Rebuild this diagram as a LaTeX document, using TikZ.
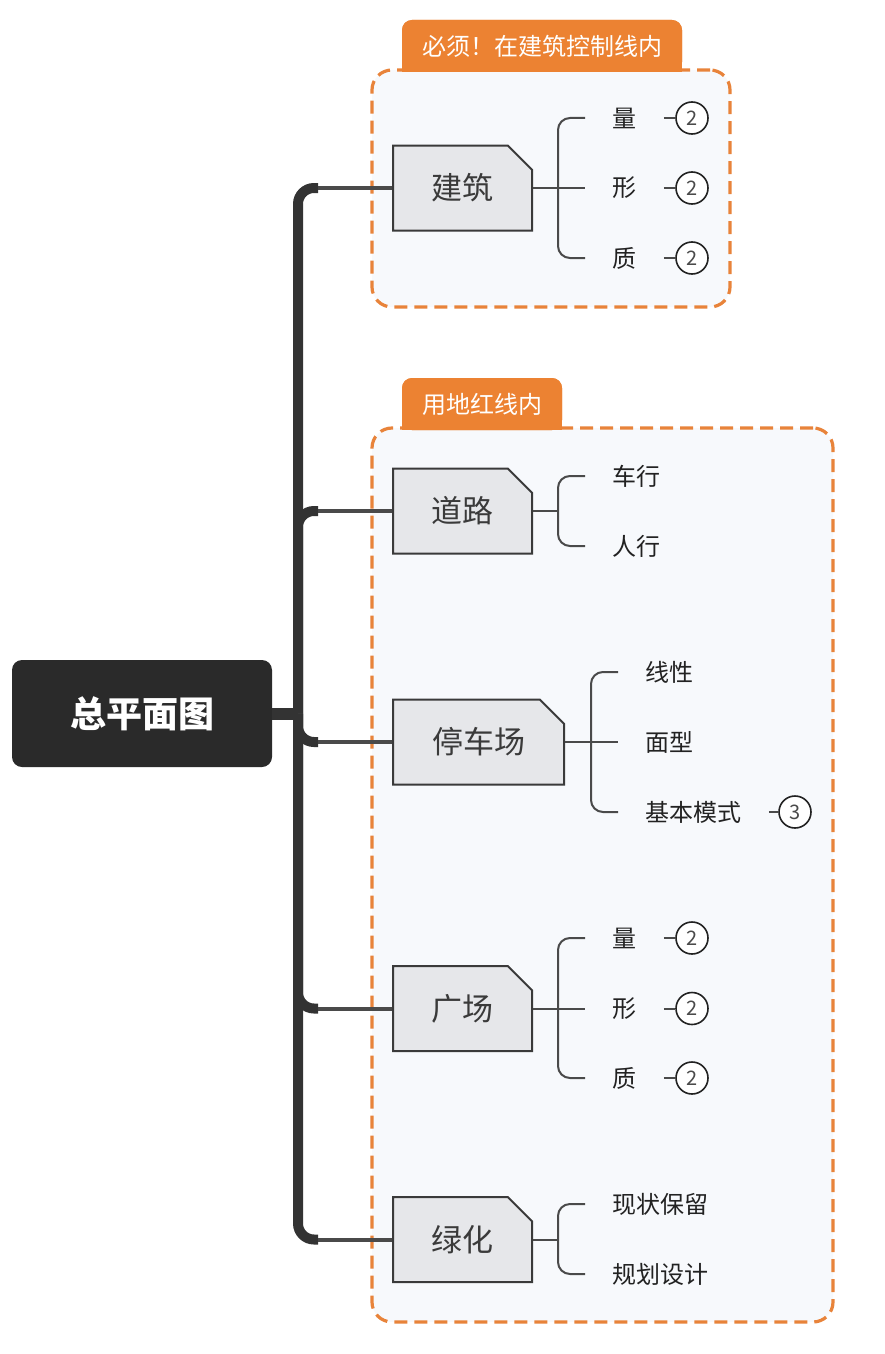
\documentclass[tikz,border=0pt]{standalone}
\usepackage{fontspec}
\setmainfont{Noto Sans CJK SC}
\usepackage{xcolor}
\usetikzlibrary{positioning,shapes.misc}
\definecolor{rootfill}{HTML}{2A2A2A}
\definecolor{spinegrey}{HTML}{333333}
\definecolor{twiggrey}{HTML}{4A4A4A}
\definecolor{boxfill}{HTML}{E6E7EA}
\definecolor{boxline}{HTML}{3A3A3A}
\definecolor{zoneorange}{HTML}{E8833A}
\definecolor{taborange}{HTML}{EC8232}
\definecolor{zonefill}{HTML}{F7F9FC}
\definecolor{leafgrey}{HTML}{222222}
\tikzset{
  rootbox/.style={
    rectangle, rounded corners=5pt, fill=rootfill, text=white,
    minimum width=130pt, minimum height=53.5pt,
    font=\fontsize{18}{20}\selectfont\bfseries
  },
  topic/.style={
    chamfered rectangle, chamfered rectangle corners=north east,
    chamfered rectangle xsep=8.5pt, draw=boxline, line width=1pt,
    fill=boxfill, text=boxline, minimum width=69.5pt, minimum height=42.5pt,
    font=\fontsize{15.5}{18}\selectfont
  },
  leaf/.style={
    anchor=west, inner xsep=13.5pt, inner ysep=2pt, text=leafgrey,
    font=\fontsize{12}{14}\selectfont
  },
  badge/.style={
    circle, draw=leafgrey, line width=0.8pt, minimum size=16pt,
    inner sep=0pt, fill=white, text=twiggrey, font=\fontsize{10}{12}\selectfont
  },
  zone/.style={
    rectangle, draw=zoneorange, dash pattern=on 6.5pt off 3.5pt,
    line width=1.6pt, fill=zonefill, rounded corners=10pt
  },
  tabnode/.style={
    rectangle, fill=taborange, rounded corners=5pt, text=white,
    minimum height=26pt, inner sep=0pt, font=\fontsize{12}{14}\selectfont
  },
  spine/.style={draw=spinegrey, line width=5pt, rounded corners=8pt},
  twig/.style={draw=twiggrey, line width=2pt},
  brk/.style={draw=twiggrey, line width=1pt, rounded corners=6pt},
}
\begin{document}
\begin{tikzpicture}[x=0.5pt,y=-0.5pt]
  \useasboundingbox (0,0) rectangle (884,1354);

  %% -- zones --------------------------------------------------------------
  \node[zone, minimum width=179pt, minimum height=118.5pt] (zone1) at (551,188.5) {};
  \node[zone, minimum width=230.5pt, minimum height=447pt] (zone2) at (602.5,875) {};

  \node[tabnode, minimum width=140pt] (tab1) at (542,46) {必须！在建筑控制线内};
  \fill[taborange] (tab1.west) rectangle (tab1.south east);
  \node[tabnode, minimum width=140pt] at (542,46) {必须！在建筑控制线内};
  \node[tabnode, minimum width=80pt] (tab2) at (482,404) {用地红线内};
  \fill[taborange] (tab2.west) rectangle (tab2.south east);
  \node[tabnode, minimum width=80pt] at (482,404) {用地红线内};

  %% -- root and topics ----------------------------------------------------
  \node[rootbox] (root) at (142,713.5) {总平面图};
  \coordinate (trunk) at (298,713.5);

  \node[topic] (jz) at (462.5,188) {建筑};
  \node[topic] (dl) at (462.5,511) {道路};
  \node[topic, minimum width=85.5pt] (tcc) at (478.5,742) {停车场};
  \node[topic] (gc) at (462.5,1008.5) {广场};
  \node[topic] (lh) at (462.5,1239.5) {绿化};

  %% -- trunk --------------------------------------------------------------
  \draw[spinegrey, line width=6pt] (root.east) -- (trunk);
  \foreach \t in {jz,dl,tcc,gc,lh} {
    \draw[spine] (trunk) |- ([xshift=-37pt]\t.west);
    \draw[twig] ([xshift=-37pt]\t.west) -- (\t.west);
  }

  %% -- leaves -------------------------------------------------------------
  \coordinate (jz-fork) at (558,188);
  \node[leaf] (jz1) at (585,118) {量};
  \node[leaf] (jz2) at (585,188) {形};
  \node[leaf] (jz3) at (585,258) {质};

  \coordinate (dl-fork) at (558,511);
  \node[leaf] (dl1) at (585,476) {车行};
  \node[leaf] (dl2) at (585,546) {人行};

  \coordinate (tcc-fork) at (591,742);
  \node[leaf] (tcc1) at (618,672) {线性};
  \node[leaf] (tcc2) at (618,742) {面型};
  \node[leaf] (tcc3) at (618,812) {基本模式};

  \coordinate (gc-fork) at (558,1008.5);
  \node[leaf] (gc1) at (585,938) {量};
  \node[leaf] (gc2) at (585,1008.5) {形};
  \node[leaf] (gc3) at (585,1078) {质};

  \coordinate (lh-fork) at (558,1239.5);
  \node[leaf] (lh1) at (585,1204) {现状保留};
  \node[leaf] (lh2) at (585,1274) {规划设计};

  % brackets
  \foreach \t/\n in {jz/3,dl/2,tcc/3,gc/3,lh/2} {
    \draw[brk] (\t.east) -- (\t-fork);
    \draw[brk] (\t1.west) -| (\t-fork) |- (\t\n.west);
  }
  \draw[brk] (jz-fork) -- (jz2.west);
  \draw[brk] (tcc-fork) -- (tcc2.west);
  \draw[brk] (gc-fork) -- (gc2.west);

  %% -- badges -------------------------------------------------------------
  \node[badge] (jzb1) at (692,118) {2};
  \node[badge] (jzb2) at (692,188) {2};
  \node[badge] (jzb3) at (692,258) {2};
  \node[badge] (tccb3) at (795,812) {3};
  \node[badge] (gcb1) at (692,938) {2};
  \node[badge] (gcb2) at (692,1008.5) {2};
  \node[badge] (gcb3) at (692,1078) {2};
  \draw[brk] (jz1.east) -- (jzb1.west);
  \draw[brk] (jz2.east) -- (jzb2.west);
  \draw[brk] (jz3.east) -- (jzb3.west);
  \draw[brk] (tcc3.east) -- (tccb3.west);
  \draw[brk] (gc1.east) -- (gcb1.west);
  \draw[brk] (gc2.east) -- (gcb2.west);
  \draw[brk] (gc3.east) -- (gcb3.west);

\end{tikzpicture}
\end{document}
